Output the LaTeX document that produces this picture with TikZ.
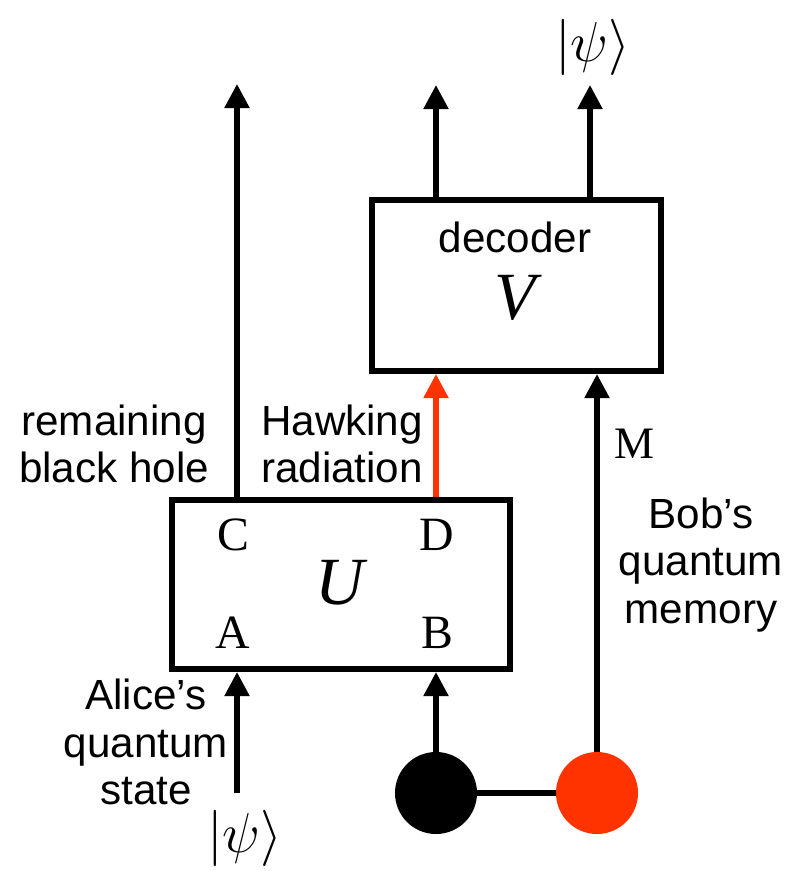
\RequirePackage{fix-cm}
\documentclass[tikz,border=0pt]{standalone}
\usepackage{fontspec}
\newfontfamily\labelfont{Liberation Sans}
\newfontfamily\letterfont{Liberation Serif}
\usetikzlibrary{positioning,calc,arrows.meta}
\definecolor{hawkred}{RGB}{255,51,0}

\begin{document}
\begin{tikzpicture}[
    x=0.025cm, y=-0.025cm,
    gate/.style={
        rectangle,
        draw,
        line width=4.3pt,
        inner sep=0pt
    },
    wire/.style={
        line width=3.7pt,
        -{Triangle[length=0.6cm,width=0.6cm]}
    },
    plain/.style={line width=3.7pt},
    caption/.style={
        font=\labelfont\fontsize{30}{34}\selectfont,
        align=center,
        inner sep=0pt
    },
    port/.style={
        font=\letterfont\fontsize{34}{40}\selectfont,
        inner sep=0pt
    },
    opname/.style={
        font=\letterfont\itshape\fontsize{48}{56}\selectfont,
        inner sep=0pt
    },
    ket/.style={
        font=\fontsize{40}{48}\selectfont,
        inner sep=0pt
    },
    qubit/.style={
        circle,
        minimum size=2.05cm,
        inner sep=0pt
    }
]

\useasboundingbox (0,0) rectangle (794,871);

% ------------------------------------------------------------
% Gates
% ------------------------------------------------------------

\node[gate, minimum width=8.45cm, minimum height=4.225cm] (boxU) at (341,584.5) {};
\node[gate, minimum width=7.225cm, minimum height=4.275cm] (boxV) at (516.5,285.5) {};

\node[opname] (opU) at (340,583) {U};
\node[port] (portC) at (233,535) {C};
\node[port] (portD) at (437,535) {D};
\node[port] (portA) at (233,633) {A};
\node[port] (portB) at (437,633) {B};

\node[caption] (dec) at (515,237) {decoder};
\node[opname] (opV) at (515,298) {V};

% ------------------------------------------------------------
% Qubits
% ------------------------------------------------------------

\node[qubit, fill=black] (ref) at (436,793) {};
\node[qubit, fill=hawkred] (mem) at (597,793) {};

\coordinate (inA) at (237,793);
\coordinate (outC) at (237,84);
\coordinate (outR) at (436,85);
\coordinate (outM) at (590,85);

% ------------------------------------------------------------
% Wires
% ------------------------------------------------------------

\draw[wire] (inA) -- (inA |- boxU.south);
\draw[wire] (ref.north) -- (ref |- boxU.south);
\draw[plain] (ref.east) -- (mem.west);
\draw[wire] (mem.north) -- (mem |- boxV.south);
\draw[wire, color=hawkred] (outR |- boxU.north) -- (outR |- boxV.south);
\draw[wire] (outC |- boxU.north) -- (outC);
\draw[wire] (outR |- boxV.north) -- (outR);
\draw[wire] (outM |- boxV.north) -- (outM);

% ------------------------------------------------------------
% Labels
% ------------------------------------------------------------

\node[caption] (bh) at (114,444) {remaining\\black hole};
\node[caption] (hr) at (342,444) {Hawking\\radiation};
\node[port, font=\letterfont\fontsize{32}{38}\selectfont] (labM) at (635,444) {M};
\node[caption] (bob) at (701,565) {Bob’s\\quantum\\memory};
\node[caption] (alice) at (146,742) {Alice’s\\quantum\\state};

\node[ket] (psiOut) at (593,47) {$|\psi\rangle$};
\node[ket] (psiIn) at (245,838) {$|\psi\rangle$};

\end{tikzpicture}
\end{document}
